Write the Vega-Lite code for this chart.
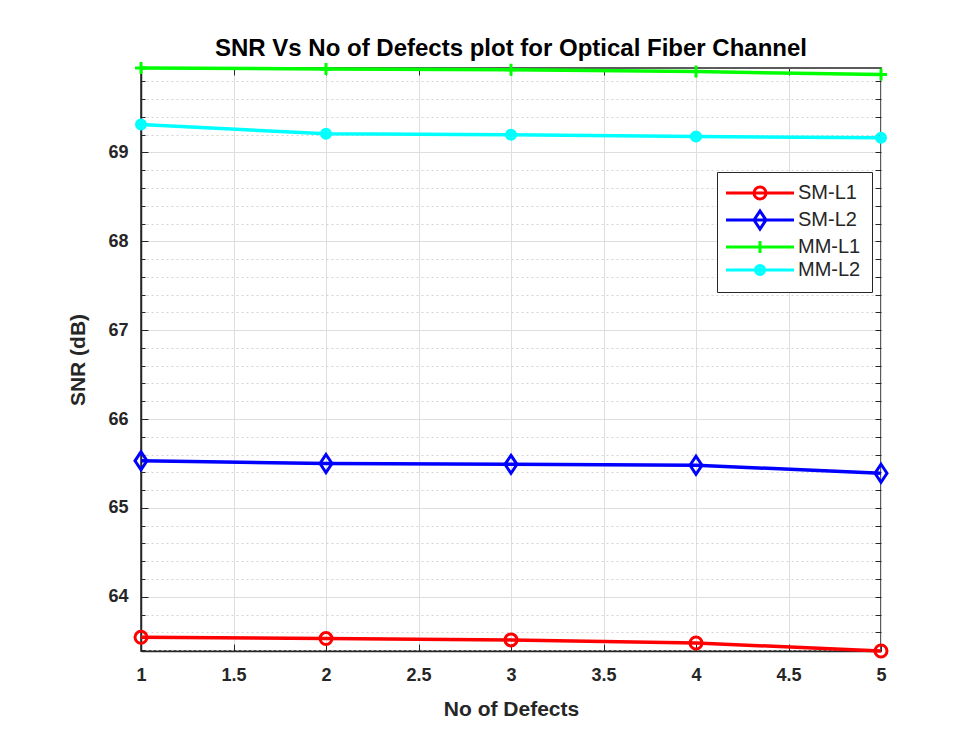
{
  "$schema": "https://vega.github.io/schema/vega-lite/v6.json",
  "width": 740,
  "height": 583,
  "autosize": "none",
  "padding": {"left": 141, "top": 68, "right": 88, "bottom": 82},
  "background": "white",
  "title": {"text": "SNR Vs No of Defects plot for Optical Fiber Channel", "font": "Liberation Sans", "fontSize": 24, "fontWeight": "bold", "color": "#000000", "offset": -5, "anchor": "middle"},
  "config": {
    "view": {"stroke": "#262626", "strokeWidth": 1.5},
    "axis": {"labelFont": "Liberation Sans", "labelFontWeight": "bold", "labelFontSize": 18, "labelColor": "#262626", "titleFont": "Liberation Sans", "titleFontWeight": "bold", "titleFontSize": 21, "titleColor": "#262626", "domainColor": "#262626", "tickColor": "#262626", "domainWidth": 1.5}
  },
  "data": {"values": [
    {"x": 1, "series": "SM-L1", "snr": 63.544},
    {"x": 2, "series": "SM-L1", "snr": 63.53},
    {"x": 3, "series": "SM-L1", "snr": 63.515},
    {"x": 4, "series": "SM-L1", "snr": 63.48},
    {"x": 5, "series": "SM-L1", "snr": 63.39},
    {"x": 1, "series": "SM-L2", "snr": 65.53},
    {"x": 2, "series": "SM-L2", "snr": 65.5},
    {"x": 3, "series": "SM-L2", "snr": 65.49},
    {"x": 4, "series": "SM-L2", "snr": 65.48},
    {"x": 5, "series": "SM-L2", "snr": 65.39},
    {"x": 1, "series": "MM-L1", "snr": 69.95},
    {"x": 2, "series": "MM-L1", "snr": 69.94},
    {"x": 3, "series": "MM-L1", "snr": 69.93},
    {"x": 4, "series": "MM-L1", "snr": 69.91},
    {"x": 5, "series": "MM-L1", "snr": 69.876},
    {"x": 1, "series": "MM-L2", "snr": 69.315},
    {"x": 2, "series": "MM-L2", "snr": 69.21},
    {"x": 3, "series": "MM-L2", "snr": 69.2},
    {"x": 4, "series": "MM-L2", "snr": 69.18},
    {"x": 5, "series": "MM-L2", "snr": 69.165}
  ]},
  "layer": [
    {
      "mark": {"type": "line", "strokeWidth": 3.5},
      "encoding": {
        "x": {"field": "x", "type": "quantitative", "scale": {"domain": [1, 5], "nice": false, "zero": false},
              "axis": {"orient": "bottom", "title": "No of Defects", "values": [1, 1.5, 2, 2.5, 3, 3.5, 4, 4.5, 5], "grid": true, "gridColor": "#dedede", "gridWidth": 1, "tickSize": -7, "labelPadding": 22, "titlePadding": 14, "labelFlush": false, "format": "~g"}},
        "y": {"field": "snr", "type": "quantitative", "scale": {"domain": [63.39, 69.95], "nice": false, "zero": false},
              "axis": {"orient": "left", "title": "SNR (dB)", "values": [64, 65, 66, 67, 68, 69], "grid": true, "gridColor": "#dedede", "gridWidth": 1, "tickSize": -7, "labelPadding": 20, "titlePadding": 19, "labelFlush": false, "format": "d"}},
        "color": {"field": "series", "type": "nominal", "scale": {"domain": ["SM-L1", "SM-L2", "MM-L1", "MM-L2"], "range": ["#ff0000", "#0000ff", "#00ff00", "#00ffff"]}}
      }
    },
    {
      "transform": [{"filter": "datum.series == 'SM-L1'"}],
      "mark": {"type": "point", "filled": false, "size": 4, "strokeWidth": 3, "opacity": 1, "color": "#ff0000", "shape": "M-6,0A6,6 0 1,0 6,0A6,6 0 1,0 -6,0Z"},
      "encoding": {
        "x": {"field": "x", "type": "quantitative", "axis": {"orient": "top", "title": null, "labels": false, "grid": false, "domain": false, "values": [1, 1.5, 2, 2.5, 3, 3.5, 4, 4.5, 5], "tickSize": -7}},
        "y": {"field": "snr", "type": "quantitative", "axis": {"orient": "left", "title": null, "labels": false, "domain": false, "grid": true, "gridColor": "#d4d4d4", "gridDash": [2, 3], "gridWidth": 1, "tickSize": -4,
              "values": [63.4, 63.6, 63.8, 64.2, 64.4, 64.6, 64.8, 65.2, 65.4, 65.6, 65.8, 66.2, 66.4, 66.6, 66.8, 67.2, 67.4, 67.6, 67.8, 68.2, 68.4, 68.6, 68.8, 69.2, 69.4, 69.6, 69.8]}}
      }
    },
    {
      "transform": [{"filter": "datum.series == 'SM-L2'"}],
      "mark": {"type": "point", "filled": false, "size": 4, "strokeWidth": 3, "opacity": 1, "color": "#0000ff", "shape": "M0,-9L6,0L0,9L-6,0Z"},
      "encoding": {
        "x": {"field": "x", "type": "quantitative", "axis": null},
        "y": {"field": "snr", "type": "quantitative", "axis": null}
      }
    },
    {
      "transform": [{"filter": "datum.series == 'MM-L1'"}],
      "mark": {"type": "point", "filled": false, "size": 4, "strokeWidth": 3, "opacity": 1, "color": "#00ff00", "shape": "M-6,0H6M0,-6V6"},
      "encoding": {
        "x": {"field": "x", "type": "quantitative", "axis": null},
        "y": {"field": "snr", "type": "quantitative", "axis": null}
      }
    },
    {
      "transform": [{"filter": "datum.series == 'MM-L2'"}],
      "mark": {"type": "point", "filled": false, "size": 4, "strokeWidth": 3, "opacity": 1, "color": "#00ffff", "shape": "M-1.5,0A1.5,1.5 0 1,0 1.5,0A1.5,1.5 0 1,0 -1.5,0ZM-4.5,0A4.5,4.5 0 1,0 4.5,0A4.5,4.5 0 1,0 -4.5,0Z"},
      "encoding": {
        "x": {"field": "x", "type": "quantitative", "axis": null},
        "y": {"field": "snr", "type": "quantitative", "axis": null}
      }
    },
    {
      "transform": [{"filter": "datum.x > 100"}],
      "mark": {"type": "point", "filled": false, "size": 4, "strokeWidth": 3, "opacity": 1},
      "encoding": {
        "x": {"field": "x", "type": "quantitative", "axis": null},
        "y": {"field": "snr", "type": "quantitative", "axis": {"orient": "right", "title": null, "labels": false, "domain": false, "grid": false, "tickSize": -6,
              "values": [63.4, 63.6, 63.8, 64, 64.2, 64.4, 64.6, 64.8, 65, 65.2, 65.4, 65.6, 65.8, 66, 66.2, 66.4, 66.6, 66.8, 67, 67.2, 67.4, 67.6, 67.8, 68, 68.2, 68.4, 68.6, 68.8, 69, 69.2, 69.4, 69.6, 69.8]}},
        "color": {"field": "series", "type": "nominal",
          "legend": {"title": null, "orient": "none", "legendX": 576, "legendY": 104, "fillColor": "white", "strokeColor": "#262626", "padding": 11, "symbolSize": 4, "symbolStrokeWidth": 3, "symbolOpacity": 1, "labelFont": "Liberation Sans", "labelFontSize": 20, "labelColor": "#262626", "labelOffset": 28, "symbolOffset": 22, "rowPadding": 0}},
        "shape": {"field": "series", "type": "nominal", "scale": {"domain": ["SM-L1", "SM-L2", "MM-L1", "MM-L2"],
          "range": ["M-34,0H34M-6,0A6,6 0 1,0 6,0A6,6 0 1,0 -6,0Z", "M-34,0H34M0,-9L6,0L0,9L-6,0Z", "M-34,0H34M-6,0H6M0,-6V6", "M-34,0H34M-1.5,0A1.5,1.5 0 1,0 1.5,0A1.5,1.5 0 1,0 -1.5,0ZM-4.5,0A4.5,4.5 0 1,0 4.5,0A4.5,4.5 0 1,0 -4.5,0Z"]},
          "legend": {"title": null, "orient": "none", "legendX": 576, "legendY": 104, "fillColor": "white", "strokeColor": "#262626", "padding": 11, "symbolSize": 4, "symbolStrokeWidth": 3, "symbolOpacity": 1, "labelFont": "Liberation Sans", "labelFontSize": 20, "labelColor": "#262626", "labelOffset": 28, "symbolOffset": 22, "rowPadding": 0}}
      }
    }
  ],
  "resolve": {"axis": {"x": "independent", "y": "independent"}}
}
